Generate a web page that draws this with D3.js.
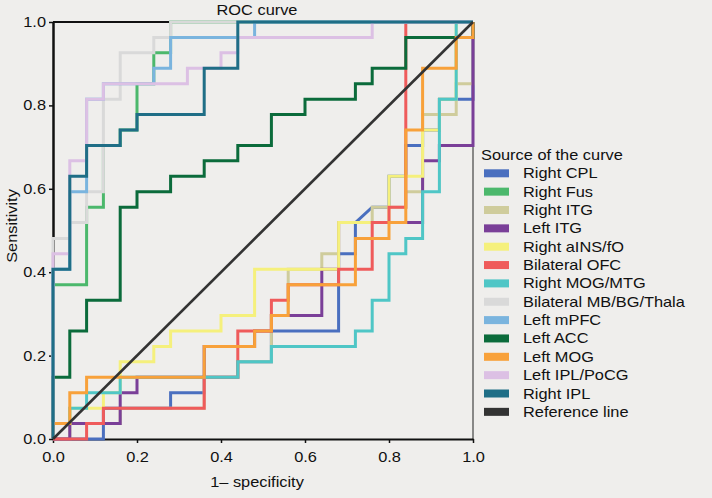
<!DOCTYPE html>
<html><head><meta charset="utf-8">
<script src="https://cdn.jsdelivr.net/npm/d3@7"></script>
<style>
html,body{margin:0;padding:0;background:#efeeec;}
svg{display:block;font-family:"Liberation Sans",Arial,Helvetica,sans-serif;}
</style>
</head><body>
<svg id="chart" width="712" height="498"></svg>
<script>
// ---------- data (1 - specificity, sensitivity) ----------
const tickValues = [0, 0.2, 0.4, 0.6, 0.8, 1.0];
const chartTitle = "ROC curve";
const xTitle = "1\u2013 specificity";
const yTitle = "Sensitivity";
const legendTitle = "Source of the curve";

const seriesNames = ["Right CPL", "Right Fus", "Right ITG", "Left ITG", "Right aINS/fO",
  "Bilateral OFC", "Right MOG/MTG", "Bilateral MB/BG/Thala", "Left mPFC", "Left ACC",
  "Left MOG", "Left IPL/PoCG", "Right IPL", "Reference line"];
const seriesColors = ["#4a6fbf", "#4cb86c", "#cfcc9c", "#7a3f98", "#f5f07c",
  "#ef5b5b", "#4fc6c6", "#d9d9d9", "#7ab4de", "#0b6b3b",
  "#f8a13a", "#dcc0e4", "#1f6e86", "#333333"];

const rightCPL = [[0,0],[.12,0],[.12,.074],[.28,.074],[.28,.111],[.36,.111],[.36,.148],[.44,.148],[.44,.185],[.52,.185],[.52,.259],[.68,.259],[.68,.444],[.72,.444],[.72,.519],[.76,.556],[.80,.556],[.80,.630],[.84,.630],[.84,.704],[.88,.704],[.88,.741],[.92,.741],[.92,.815],[1,.815],[1,1]];
const rightFus = [[0,0],[0,.370],[.08,.370],[.08,.556],[.12,.556],[.12,.704],[.16,.704],[.16,.741],[.20,.741],[.20,.852],[.24,.852],[.24,.926],[.28,.926],[.28,1],[1,1]];
const rightITG = [[0,0],[.04,0],[.04,.037],[.16,.037],[.16,.074],[.36,.074],[.36,.148],[.44,.148],[.44,.185],[.52,.185],[.52,.296],[.56,.296],[.56,.407],[.64,.407],[.64,.444],[.68,.444],[.68,.519],[.76,.519],[.76,.556],[.84,.556],[.84,.593],[.88,.593],[.88,.778],[.96,.778],[.96,.852],[1,.852],[1,1]];
const leftITG = [[0,0],[.04,0],[.04,.037],[.16,.037],[.16,.111],[.20,.111],[.20,.148],[.36,.148],[.36,.222],[.48,.222],[.48,.259],[.52,.259],[.52,.296],[.64,.296],[.64,.407],[.68,.407],[.68,.519],[.88,.519],[.88,.667],[.92,.667],[.92,.704],[1,.704],[1,1]];
const rightAINS = [[0,0],[0,.037],[.04,.037],[.04,.074],[.12,.074],[.12,.111],[.16,.111],[.16,.185],[.24,.185],[.24,.222],[.28,.222],[.28,.259],[.40,.259],[.40,.296],[.48,.296],[.48,.407],[.68,.407],[.68,.519],[.80,.519],[.80,.630],[.88,.630],[.88,.741],[.92,.741],[.92,.815],[.96,.815],[.96,1],[1,1]];
const bilateralOFC = [[0,0],[.08,0],[.08,.037],[.12,.037],[.12,.074],[.36,.074],[.36,.148],[.44,.148],[.44,.259],[.52,.259],[.52,.333],[.56,.333],[.56,.370],[.68,.370],[.68,.407],[.76,.407],[.76,.519],[.80,.519],[.80,.556],[.84,.556],[.84,1],[1,1]];
const rightMOGMTG = [[0,0],[0,.037],[.04,.037],[.04,.074],[.08,.074],[.08,.111],[.16,.111],[.16,.148],[.44,.148],[.44,.185],[.52,.185],[.52,.222],[.72,.222],[.72,.259],[.76,.259],[.76,.333],[.80,.333],[.80,.444],[.84,.444],[.84,.481],[.88,.481],[.88,.593],[.92,.593],[.92,.815],[.96,.815],[.96,1],[1,1]];
const bilateralMB = [[0,0],[0,.481],[.04,.481],[.04,.519],[.08,.519],[.08,.593],[.12,.593],[.12,.815],[.16,.815],[.16,.926],[.24,.926],[.24,.963],[.28,.963],[.28,1],[1,1]];
const leftMPFC = [[0,0],[0,.407],[.04,.407],[.04,.593],[.08,.593],[.08,.815],[.12,.815],[.12,.852],[.24,.852],[.24,.889],[.28,.889],[.28,.963],[.48,.963],[.48,1],[1,1]];
const leftACC = [[0,0],[0,.148],[.04,.148],[.04,.259],[.08,.259],[.08,.333],[.16,.333],[.16,.556],[.20,.556],[.20,.593],[.28,.593],[.28,.630],[.36,.630],[.36,.667],[.44,.667],[.44,.704],[.52,.704],[.52,.778],[.60,.778],[.60,.815],[.72,.815],[.72,.852],[.76,.852],[.76,.889],[.84,.889],[.84,.963],[1,.963],[1,1]];
const leftMOG = [[0,0],[0,.037],[.04,.037],[.04,.111],[.08,.111],[.08,.148],[.36,.148],[.36,.222],[.48,.222],[.48,.259],[.52,.259],[.52,.296],[.56,.296],[.56,.370],[.72,.370],[.72,.481],[.80,.481],[.80,.519],[.84,.519],[.84,.741],[.88,.741],[.88,.889],[.96,.889],[.96,.963],[1,.963],[1,1]];
const leftIPL = [[0,0],[0,.444],[.04,.444],[.04,.667],[.08,.667],[.08,.815],[.12,.815],[.12,.852],[.32,.852],[.32,.889],[.40,.889],[.40,.926],[.44,.926],[.44,.963],[.76,.963],[.76,1],[1,1]];
const rightIPL = [[0,0],[0,.407],[.04,.407],[.04,.630],[.08,.630],[.08,.704],[.16,.704],[.16,.741],[.20,.741],[.20,.778],[.36,.778],[.36,.889],[.44,.889],[.44,1],[1,1]];
const referenceLine = [[0,0],[1,1]];

const seriesData = [rightCPL, rightFus, rightITG, leftITG, rightAINS, bilateralOFC, rightMOGMTG,
  bilateralMB, leftMPFC, leftACC, leftMOG, leftIPL, rightIPL, referenceLine];

// ---------- drawing ----------
const SX = 1.17; // wide label font
const svg = d3.select("#chart");
svg.append("rect").attr("width", 712).attr("height", 498).attr("fill", "#efeeec");

const x = d3.scaleLinear().domain([0, 1]).range([53, 473]);
const y = d3.scaleLinear().domain([0, 1]).range([439, 22]);

function stretch(sel) {
  sel.each(function () {
    const t = d3.select(this);
    const tx = +t.attr("x") || 0;
    t.attr("x", tx / SX).attr("transform", `scale(${SX},1)`);
  });
}

// frame top and right
svg.append("line").attr("x1", x(0)).attr("x2", x(1)).attr("y1", y(1)).attr("y2", y(1))
  .attr("stroke", "#111").attr("stroke-width", 2);
svg.append("line").attr("x1", x(1)).attr("x2", x(1)).attr("y1", y(1)).attr("y2", y(0))
  .attr("stroke", "#666").attr("stroke-width", 1.5);

const gx = svg.append("g").attr("transform", `translate(0,${y(0)})`)
  .call(d3.axisBottom(x).tickValues(tickValues).tickFormat(d3.format(".1f"))
    .tickSizeInner(4).tickSizeOuter(0).tickPadding(9));
const gy = svg.append("g").attr("transform", `translate(${x(0)},0)`)
  .call(d3.axisLeft(y).tickValues(tickValues).tickFormat(d3.format(".1f"))
    .tickSizeInner(4).tickSizeOuter(0).tickPadding(3));
[gx, gy].forEach(g => {
  g.selectAll("text").attr("font-size", 14).attr("fill", "#111")
    .attr("font-family", '"Liberation Sans",Arial,sans-serif');
  g.selectAll("line").attr("stroke", "#111").attr("stroke-width", 1.5);
});
gx.select(".domain").attr("stroke", "#111").attr("stroke-width", 2);
gy.select(".domain").attr("stroke", "#111").attr("stroke-width", 2.5);
stretch(gx.selectAll("text"));
stretch(gy.selectAll("text"));

// curves
const line = d3.line().x(d => x(d[0])).y(d => y(d[1]));
seriesData.forEach((data, i) => {
  svg.append("path").datum(data).attr("d", line)
    .attr("fill", "none").attr("stroke", seriesColors[i])
    .attr("stroke-width", i === seriesData.length - 1 ? 2.6 : 3)
    .attr("stroke-linejoin", "miter").attr("stroke-linecap", "butt");
});

// titles
function label(xp, yp, text, anchor, size, rot) {
  const g = svg.append("g").attr("transform", `translate(${xp},${yp})` + (rot ? ` rotate(${rot})` : ""));
  g.append("text").attr("text-anchor", anchor).attr("font-size", size).attr("fill", "#111")
    .attr("transform", `scale(${SX},1)`).text(text);
}
label(257, 15, chartTitle, "middle", 14);
label(257, 487, xTitle, "middle", 14);
label(17, 226, yTitle, "middle", 14, -90);

// legend
label(481, 160, legendTitle, "start", 14);
seriesNames.forEach((name, i) => {
  const cy = 173.3 + i * 18.35;
  svg.append("rect").attr("x", 484).attr("y", cy - 4).attr("width", 25).attr("height", 8)
    .attr("fill", seriesColors[i]);
  label(523, cy + 5, name, "start", 14);
});
</script>
</body></html>
